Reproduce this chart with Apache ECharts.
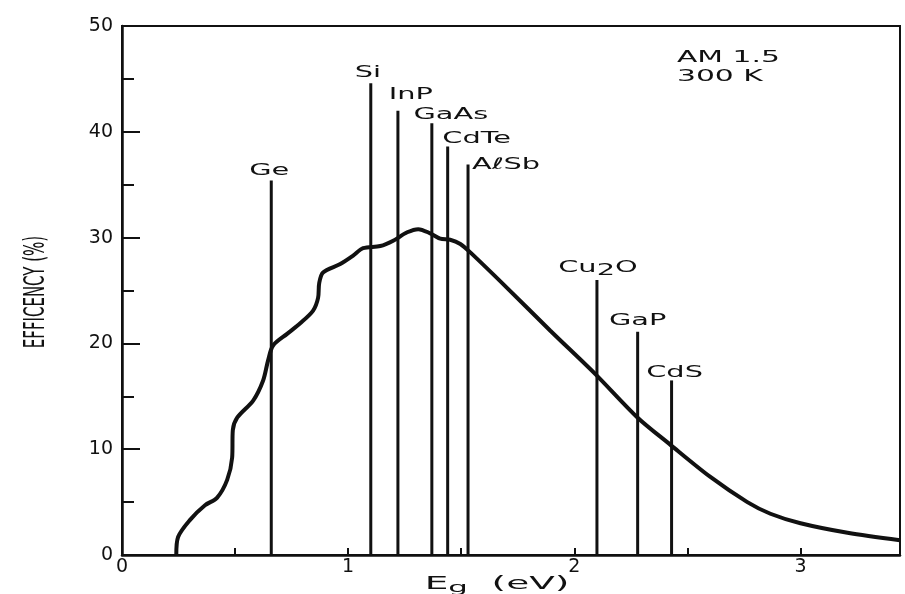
<!DOCTYPE html>
<html>
<head>
<meta charset="utf-8">
<title>Efficiency vs band gap</title>
<script src="https://cdn.jsdelivr.net/npm/echarts@6.0.0/dist/echarts.min.js"></script>
<style>
    html, body { margin: 0; padding: 0; background: #fff; }
    #chart { width: 905px; height: 594px; }
</style>
</head>
<body>
<div id="chart"></div>
<script>
;(function () {

    'use strict';

    // semiconductors and their band gap lines
    var materials = ['Ge', 'Si', 'InP', 'GaAs', 'CdTe', 'A\u2113Sb', 'Cu2O', 'GaP', 'CdS'];
    var gapEnergy = [0.66, 1.10, 1.22, 1.37, 1.44, 1.53, 2.10, 2.28, 2.43];
    var gapEfficiency = [35.4, 44.6, 42.0, 40.8, 38.6, 36.9, 26.0, 21.1, 16.5];

    // theoretical efficiency curve, AM 1.5, 300 K
    var curveEnergy = [0.24, 0.248, 0.30, 0.367, 0.42, 0.465, 0.487, 0.49, 0.51, 0.58,
        0.624, 0.646, 0.668, 0.73, 0.788, 0.845, 0.867, 0.872, 0.889, 0.965,
        1.022, 1.066, 1.142, 1.199, 1.261, 1.31, 1.363, 1.407, 1.451, 1.496,
        1.54, 1.70, 1.894, 2.093, 2.279, 2.42, 2.60, 2.765, 2.867,
        3.0, 3.208, 3.44];
    var curveEfficiency = [0, 1.7, 3.3, 4.7, 5.4, 7.1, 9.2, 11.8, 13.0, 14.6,
        16.5, 18.4, 19.8, 20.9, 21.9, 23.1, 24.3, 25.7, 26.7, 27.5,
        28.3, 29.0, 29.2, 29.7, 30.5, 30.8, 30.4, 29.9, 29.8, 29.4,
        28.6, 25.3, 21.2, 17.1, 13.0, 10.5, 7.4, 5.0, 3.9,
        3.0, 2.1, 1.4];

    var ink = '#111';
    var font = 'DejaVu Sans';

    // where each label sits relative to the top of its line
    var labelOffset = {
        'Ge': [-2, -10], 'Si': [-3, -10], 'InP': [13, -16], 'GaAs': [19, -8],
        'CdTe': [29, -8], 'A\u2113Sb': [38, 0], 'Cu2O': [1, -12], 'GaP': [0, -11], 'CdS': [3, -8]
    };

    var formula = function (name) {
        return name.replace(/([^0-9]+)/g, '{n|$1}').replace(/([0-9]+)/g, '{s|$1}');
    };

    var curveData = curveEnergy.map(function (e, i) {
        return [e, curveEfficiency[i]];
    });
    var gapData = materials.map(function (m, i) {
        return [gapEnergy[i], gapEfficiency[i], m];
    });

    var renderGap = function (params, api) {
        var name = gapData[params.dataIndex][2];
        var top = api.coord([api.value(0), api.value(1)]);
        var base = api.coord([api.value(0), 0]);
        var off = labelOffset[name];
        return {
            type: 'group',
            children: [
                {
                    type: 'line',
                    shape: { x1: base[0], y1: base[1], x2: top[0], y2: top[1] },
                    style: { stroke: ink, lineWidth: 3 }
                },
                {
                    type: 'text',
                    x: top[0] + off[0],
                    y: top[1] + off[1],
                    scaleX: 1.8,
                    style: {
                        text: formula(name),
                        align: 'center',
                        verticalAlign: 'middle',
                        rich: {
                            n: { fontFamily: font, fontSize: 16, fill: ink },
                            s: { fontFamily: font, fontSize: 16, fill: ink, padding: [5, 0, 0, 0] }
                        }
                    }
                }
            ]
        };
    };

    var myChart = echarts.init(document.getElementById('chart'));

    var option = {
        backgroundColor: '#fff',
        animation: false,
        grid: {
            left: 122, right: 5, top: 26, bottom: 39,
            show: true, borderColor: ink, borderWidth: 2
        },
        xAxis: {
            type: 'value',
            min: 0,
            max: 3.44,
            interval: 1,
            splitLine: { show: false },
            axisLine: { lineStyle: { color: ink, width: 2.5 } },
            axisTick: { inside: true, length: 7, lineStyle: { color: ink, width: 2 } },
            minorTick: { show: true, splitNumber: 2, length: 7, lineStyle: { color: ink, width: 2 } },
            axisLabel: {
                color: ink, fontFamily: font, fontSize: 19, margin: 3,
                showMaxLabel: false,
                formatter: function (v) { return v % 1 === 0 ? String(v) : ''; }
            }
        },
        yAxis: {
            type: 'value',
            min: 0,
            max: 50,
            interval: 10,
            splitLine: { show: false },
            axisLine: { show: true, lineStyle: { color: ink, width: 2.5 } },
            axisTick: { show: true, inside: true, length: 18, lineStyle: { color: ink, width: 2 } },
            minorTick: { show: true, splitNumber: 2, length: 12, lineStyle: { color: ink, width: 2 } },
            axisLabel: { color: ink, fontFamily: font, fontSize: 19, margin: 9 }
        },
        graphic: [
            {
                type: 'text',
                x: 677, y: 48,
                scaleX: 1.86,
                style: {
                    text: 'AM 1.5\n300 K',
                    fontFamily: font, fontSize: 16, lineHeight: 19,
                    fill: ink, align: 'left', verticalAlign: 'top'
                }
            },
            {
                type: 'text',
                x: 37, y: 292,
                rotation: Math.PI / 2,
                scaleY: 1.9,
                style: {
                    text: 'EFFICENCY (%)',
                    fontFamily: font, fontSize: 15,
                    fill: ink, align: 'center', verticalAlign: 'middle'
                }
            },
            {
                type: 'text',
                x: 497, y: 585,
                scaleX: 2.2,
                style: {
                    text: '{a|E}{b|g}{a|  (eV)}',
                    align: 'center',
                    verticalAlign: 'middle',
                    rich: {
                        a: { fontFamily: font, fontSize: 17, fill: ink },
                        b: { fontFamily: font, fontSize: 14, fill: ink, padding: [6, 0, 0, 0] }
                    }
                }
            }
        ],
        series: [
            {
                name: 'Efficiency',
                type: 'line',
                data: curveData,
                smooth: 0.3,
                showSymbol: false,
                lineStyle: { color: ink, width: 4 },
                z: 3
            },
            {
                name: 'Band gaps',
                type: 'custom',
                data: gapData,
                renderItem: renderGap,
                z: 2
            }
        ]
    };

    myChart.setOption(option);

}());
</script>
</body>
</html>
